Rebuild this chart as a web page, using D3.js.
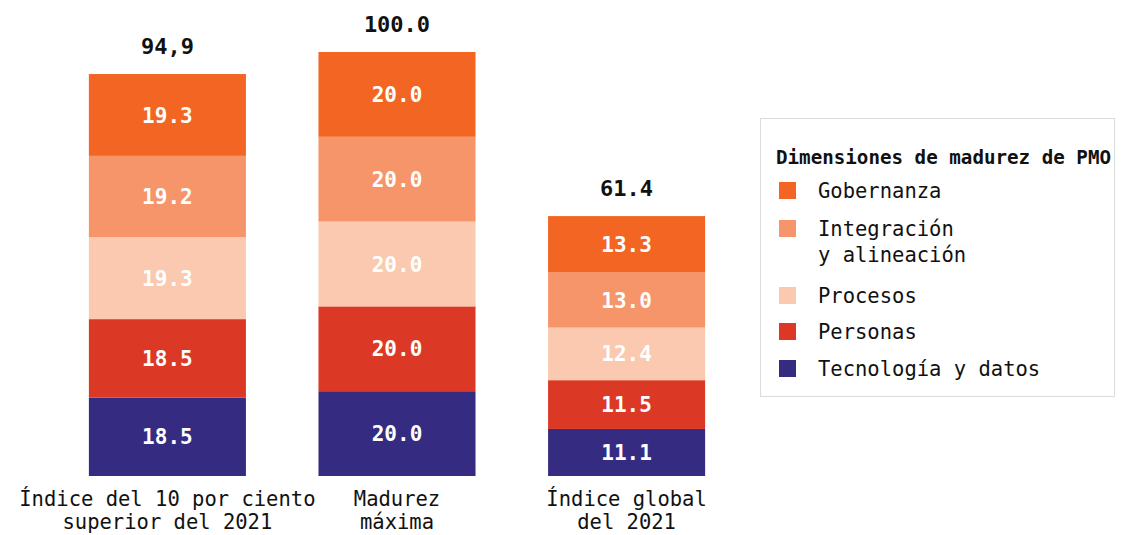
<!DOCTYPE html>
<html>
<head>
<meta charset="utf-8">
<script src="https://cdn.jsdelivr.net/npm/d3@7"></script>
<style>
  body { margin: 0; background: #fff; }
  text { font-family: "DejaVu Sans Mono", "Liberation Mono", monospace; }
</style>
</head>
<body>
<div id="chart"></div>
<script>
// data
const categories = ["Índice del 10 por ciento\nsuperior del 2021", "Madurez\nmáxima", "Índice global\ndel 2021"];
const dimensions = ["Tecnología y datos", "Personas", "Procesos", "Integración\ny alineación", "Gobernanza"];
const tecnologia = [18.5, 20.0, 11.1];
const personas = [18.5, 20.0, 11.5];
const procesos = [19.3, 20.0, 12.4];
const integracion = [19.2, 20.0, 13.0];
const gobernanza = [19.3, 20.0, 13.3];
const totals = [94.9, 100.0, 61.4];
const totalLabels = ["94,9", "100.0", "61.4"];
const colors = ["#352c82", "#dc3826", "#fbc9b0", "#f7956a", "#f26522"];
const legendTitle = "Dimensiones de madurez de PMO";

const W = 1125, H = 535;
const svg = d3.select("#chart").append("svg")
    .attr("width", W)
    .attr("height", H);

const series = [tecnologia, personas, procesos, integracion, gobernanza];
const rows = categories.map((c, i) => {
    const r = { cat: c };
    dimensions.forEach((d, j) => r[d] = series[j][i]);
    return r;
});
const stack = d3.stack().keys(dimensions)(rows);

const x = d3.scaleBand()
    .domain(categories)
    .range([20, 774])
    .paddingInner(0.316)
    .paddingOuter(0.3);

const y = d3.scaleLinear()
    .domain([0, 100])
    .range([476, 52]);

const color = d3.scaleOrdinal().domain(dimensions).range(colors);

const layers = svg.selectAll("g.layer")
    .data(stack)
    .enter().append("g")
    .attr("class", "layer")
    .attr("fill", d => color(d.key));

layers.selectAll("rect")
    .data(d => d)
    .enter().append("rect")
    .attr("x", d => x(d.data.cat))
    .attr("width", x.bandwidth())
    .attr("y", d => y(d[1]))
    .attr("height", d => y(d[0]) - y(d[1]));

layers.selectAll("text")
    .data(d => d)
    .enter().append("text")
    .attr("x", d => x(d.data.cat) + x.bandwidth() / 2)
    .attr("y", d => (y(d[0]) + y(d[1])) / 2)
    .attr("dy", "0.36em")
    .attr("text-anchor", "middle")
    .attr("fill", "#fff")
    .attr("font-weight", "bold")
    .attr("font-size", "21px")
    .text(d => (d[1] - d[0]).toFixed(1));

// totals on top
svg.selectAll("text.total")
    .data(categories)
    .enter().append("text")
    .attr("class", "total")
    .attr("x", d => x(d) + x.bandwidth() / 2)
    .attr("y", (d, i) => y(totals[i]) - 20)
    .attr("text-anchor", "middle")
    .attr("font-weight", "bold")
    .attr("font-size", "22px")
    .attr("fill", "#111")
    .text((d, i) => totalLabels[i]);

// category labels
const catLabels = svg.selectAll("text.cat")
    .data(categories)
    .enter().append("text")
    .attr("class", "cat")
    .attr("text-anchor", "middle")
    .attr("font-size", "20.5px")
    .attr("fill", "#111");
catLabels.selectAll("tspan")
    .data(d => d.split("\n").map(t => ({ t, cat: d })))
    .enter().append("tspan")
    .attr("x", d => x(d.cat) + x.bandwidth() / 2)
    .attr("y", (d, i) => 506 + i * 23)
    .text(d => d.t);

// legend
const legend = svg.append("g");
legend.append("rect")
    .attr("x", 760.5).attr("y", 118.5)
    .attr("width", 354).attr("height", 278)
    .attr("fill", "#fff")
    .attr("stroke", "#dcdcdc");
legend.append("text")
    .attr("x", 776).attr("y", 164)
    .attr("font-weight", "bold")
    .attr("font-size", "19.2px")
    .attr("fill", "#111")
    .text(legendTitle);

const legendOrder = dimensions.slice().reverse();
const legendY = [191, 229, 296, 332, 369];
const items = legend.selectAll("g.item")
    .data(legendOrder)
    .enter().append("g")
    .attr("class", "item")
    .attr("transform", (d, i) => `translate(0,${legendY[i]})`);
items.append("rect")
    .attr("x", 779).attr("y", -9)
    .attr("width", 17).attr("height", 17)
    .attr("fill", d => color(d));
const itemText = items.append("text")
    .attr("font-size", "20.5px")
    .attr("fill", "#111");
itemText.selectAll("tspan")
    .data(d => d.split("\n"))
    .enter().append("tspan")
    .attr("x", 818)
    .attr("y", (d, i) => 7 + i * 26)
    .text(d => d);
</script>
</body>
</html>
